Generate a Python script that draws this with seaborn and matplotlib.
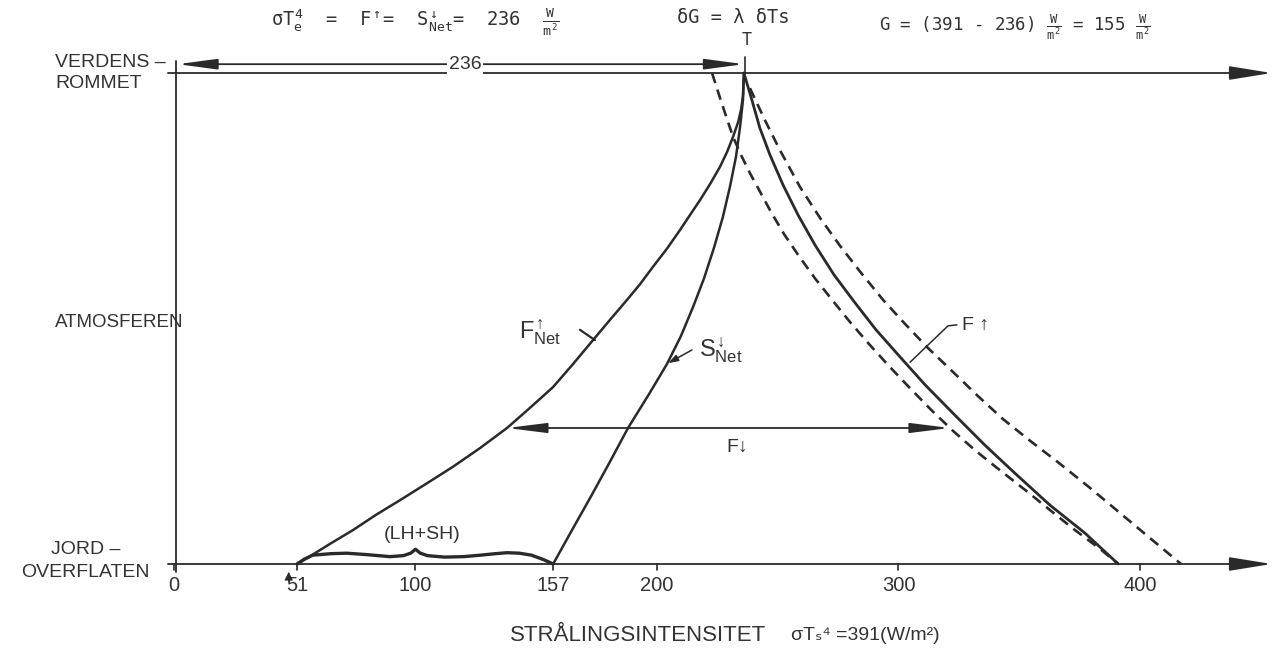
import matplotlib
matplotlib.use("Agg")
import matplotlib.pyplot as plt
import numpy as np
import pandas as pd
import seaborn as sns

# Radiation intensity (W/m^2) against relative height:
# 0 = earth's surface, 1 = top of the atmosphere (space)
fnet_up_x = [51, 55.1, 64.6, 74.1, 83.6, 93.6, 104.3, 115.5, 126.7, 137.9,
             147.4, 156.9, 165.2, 173.5, 180.5, 187.6, 193.0, 198.3, 204.1,
             209.5, 213.7, 217.8, 222.0, 226.1, 229.0, 231.5, 233.6, 234.8,
             235.6, 236]
fnet_up_h = [0, 0.012, 0.041, 0.069, 0.100, 0.130, 0.163, 0.198, 0.236, 0.277,
             0.318, 0.360, 0.407, 0.456, 0.497, 0.538, 0.570, 0.605, 0.642,
             0.680, 0.711, 0.741, 0.774, 0.809, 0.839, 0.870, 0.900, 0.925,
             0.953, 1.0]

snet_down_x = [157, 164.8, 172.7, 180.5, 188.0, 196.7, 204.1, 209.9, 214.9,
               219.5, 223.6, 227.3, 230.2, 232.7, 234.4, 235.6, 236]
snet_down_h = [0, 0.069, 0.138, 0.208, 0.277, 0.346, 0.407, 0.464, 0.523,
               0.582, 0.644, 0.707, 0.768, 0.829, 0.890, 0.945, 1.0]

f_up_x = [236, 239.3, 242.6, 246.8, 252.2, 258.4, 265.4, 273.3, 282.0, 290.7,
          300.6, 311.0, 323.4, 335.8, 348.2, 362.7, 377.2, 391]
f_up_h = [1.0, 0.945, 0.888, 0.833, 0.772, 0.711, 0.650, 0.589, 0.532, 0.477,
          0.422, 0.365, 0.303, 0.242, 0.185, 0.120, 0.063, 0]

# perturbed profiles (dashed)
f_up_outer_x = [238.5, 244.7, 250.9, 259.2, 267.5, 275.8, 284.5, 293.6, 302.7,
                312.2, 322.6, 332.9, 343.3, 354.5, 366.9, 379.3, 391.7, 404.1, 417]
f_up_outer_h = [0.969, 0.904, 0.843, 0.768, 0.705, 0.648, 0.593, 0.538, 0.489,
                0.440, 0.391, 0.342, 0.295, 0.251, 0.204, 0.155, 0.104, 0.053, 0]

f_up_inner_x = [222.8, 226.9, 231.5, 234.8, 238.5, 242.7, 247.2, 252.6, 258.8,
                265.4, 272.5, 279.9, 287.8, 296.1, 304.8, 313.5, 322.6, 332.1,
                342.0, 352.4, 362.7, 373.1, 383.4, 391]
f_up_inner_h = [1.0, 0.937, 0.870, 0.833, 0.796, 0.758, 0.717, 0.672, 0.627,
                0.582, 0.538, 0.493, 0.448, 0.403, 0.358, 0.314, 0.271, 0.230,
                0.191, 0.151, 0.110, 0.069, 0.031, 0]

# latent + sensible heat flux at the surface
lhsh_x = [51, 54, 57.5, 65, 71.5, 80, 89.4, 95, 98, 100, 102, 105, 112, 120,
          127, 133, 138, 143, 148, 153, 157]
lhsh_h = [0, 0.010, 0.018, 0.021, 0.022, 0.019, 0.015, 0.017, 0.022, 0.030,
          0.022, 0.017, 0.014, 0.015, 0.018, 0.021, 0.023, 0.022, 0.018, 0.009, 0]

# downward longwave flux arrow
fdown_level = 0.277
fdown_from = 137.9
fdown_to = 321.3

# outgoing flux at top, surface emission, greenhouse effect
olr_value = 236
surface_value = 391
g_value = 155

tick_values = [0, 51, 100, 157, 200, 300, 400]
tick_labels = ["0", "51", "100", "157", "200", "300", "400"]

# ---------------------------------------------------------------------------
sns.set_theme(style="white")
plt.rcParams["font.family"] = ["Liberation Sans", "DejaVu Sans"]
plt.rcParams["mathtext.fontset"] = "custom"
plt.rcParams["mathtext.rm"] = "DejaVu Sans Mono"
plt.rcParams["mathtext.it"] = "DejaVu Sans Mono"
plt.rcParams["mathtext.sf"] = "Liberation Sans"
plt.rcParams["mathtext.bf"] = "DejaVu Sans Mono:bold"

INK = "#2a2a2a"
TXT = "#333333"
MONO = ["DejaVu Sans Mono"]

fig = plt.figure(figsize=(12.81, 6.48), dpi=100)
ax = fig.add_axes([0, 0, 1, 1])
ax.set_xlim(-72.05, 458.4)
ax.set_ylim(-0.1711, 1.1487)
ax.axis("off")


def curve(xs, hs, **kw):
    df = pd.DataFrame({"W": xs, "h": hs})
    sns.lineplot(data=df, x="W", y="h", sort=False, estimator=None, ax=ax,
                 color=INK, legend=False, **kw)


curve(fnet_up_x, fnet_up_h, lw=1.8)
curve(snet_down_x, snet_down_h, lw=1.8)
curve(f_up_x, f_up_h, lw=2.0)
curve(f_up_outer_x, f_up_outer_h, lw=1.9, linestyle=(0, (4, 2.6)))
curve(f_up_inner_x, f_up_inner_h, lw=1.9, linestyle=(0, (4, 2.6)))
curve(lhsh_x, lhsh_h, lw=2.4)

# axes frame: surface and top-of-atmosphere lines with arrows
ax_arrow = dict(arrowstyle="-|>,head_length=2.6,head_width=0.42",
                mutation_scale=10, lw=1.3, color=INK, shrinkA=0, shrinkB=0)
for lvl in (0, 1):
    ax.annotate("", xy=(454.5, lvl), xytext=(-2.5, lvl), arrowprops=ax_arrow)
ax.plot([0.8, 0.8], [-0.016, 1.025], color=INK, lw=1.3)

# tick marks and labels
for v, lab in zip(tick_values, tick_labels):
    ax.plot([v, v], [0, -0.012], color=INK, lw=1.2)
    ax.text(v, -0.043, lab, ha="center", va="center", fontsize=14.5, color=TXT)
ax.annotate("", xy=(tick_values[1] - 3.5, -0.016), xytext=(tick_values[1] - 3.5, -0.036),
            arrowprops=dict(arrowstyle="-|>,head_length=0.5,head_width=0.25",
                            mutation_scale=10, lw=0.8, color=INK,
                            shrinkA=0, shrinkB=0))

# level names
ax.text(-49.3, 1.022, "VERDENS –", ha="left", va="center", fontsize=14, color=TXT)
ax.text(-49.3, 0.978, "ROMMET", ha="left", va="center", fontsize=14, color=TXT)
ax.text(-49.3, 0.491, "ATMOSFEREN", ha="left", va="center", fontsize=13.5, color=TXT)
ax.text(-36.5, 0.029, "JORD –", ha="center", va="center", fontsize=14, color=TXT)
ax.text(-36.5, -0.018, "OVERFLATEN", ha="center", va="center", fontsize=14, color=TXT)

# x label
ax.text(139, -0.145, "STRÅLINGSINTENSITET", ha="left", va="center",
        fontsize=16, color=TXT)
ax.text(255.5, -0.145, "σTₛ⁴ =%d(W/m²)" % surface_value, ha="left", va="center",
        fontsize=14, color=TXT)

# 236 arrow along top
lvl_top = 1.018
ax.annotate("", xy=(1.5, lvl_top), xytext=(olr_value, lvl_top),
            arrowprops=dict(arrowstyle="<|-|>,head_length=2.4,head_width=0.32",
                            mutation_scale=10, lw=1.3, color=INK,
                            shrinkA=0, shrinkB=0))
ax.plot([olr_value + 0.5, olr_value + 0.5], [1.0, 1.032], color=INK, lw=1.2)
ax.text(120.5, lvl_top, "%d" % olr_value, ha="center", va="center", fontsize=14,
        color=TXT, bbox=dict(facecolor="white", edgecolor="none", pad=1.5))

# formulas at the top
ax.text(100, 1.103,
        r"$\sigma T_e^4$  =  F$^{\uparrow}$=  S$^{\downarrow}_{Net}$=  %d  $\frac{W}{m^2}$" % olr_value,
        ha="center", va="center", fontsize=13.5, color=TXT, family=MONO)
ax.text(231.5, 1.113, r"δG = λ δTs", ha="center", va="center", fontsize=13.5,
        color=TXT, family=MONO)
ax.text(237.3, 1.067, "T", ha="center", va="center", fontsize=12, color=TXT,
        family=MONO)
ax.text(348, 1.094,
        r"G = (%d - %d) $\frac{W}{m^2}$ = %d $\frac{W}{m^2}$" % (surface_value, olr_value, g_value),
        ha="center", va="center", fontsize=12.5, color=TXT, family=MONO)

# curve labels
ax.text(151.5, 0.473, r"$\mathsf{F^{\uparrow}_{Net}}$", ha="center", va="center",
        fontsize=17, color=TXT)
ax.plot([168.1, 174.3], [0.477, 0.456], color=INK, lw=1.6)
ax.text(226.5, 0.436, r"$\mathsf{S^{\downarrow}_{Net}}$", ha="center", va="center",
        fontsize=17, color=TXT)
ax.annotate("", xy=(204.6, 0.409), xytext=(214.5, 0.436),
            arrowprops=dict(arrowstyle="-|>,head_length=0.6,head_width=0.2",
                            mutation_scale=10, lw=1.1, color=INK,
                            shrinkA=0, shrinkB=0))
ax.plot([324.2, 320.5, 304.8], [0.487, 0.485, 0.411], color=INK, lw=1.1)
ax.text(326.5, 0.487, "F ↑", ha="left", va="center", fontsize=14, color=TXT)

ax.annotate("", xy=(fdown_from, fdown_level), xytext=(fdown_to, fdown_level),
            arrowprops=dict(arrowstyle="<|-|>,head_length=2.4,head_width=0.3",
                            mutation_scale=10, lw=1.3, color=INK,
                            shrinkA=0, shrinkB=0))
ax.text(233.1, 0.238, "F↓", ha="center", va="center", fontsize=14, color=TXT)
ax.text(102.7, 0.061, "(LH+SH)", ha="center", va="center", fontsize=14, color=TXT)

fig.savefig("out.png", dpi=100, facecolor="white")
